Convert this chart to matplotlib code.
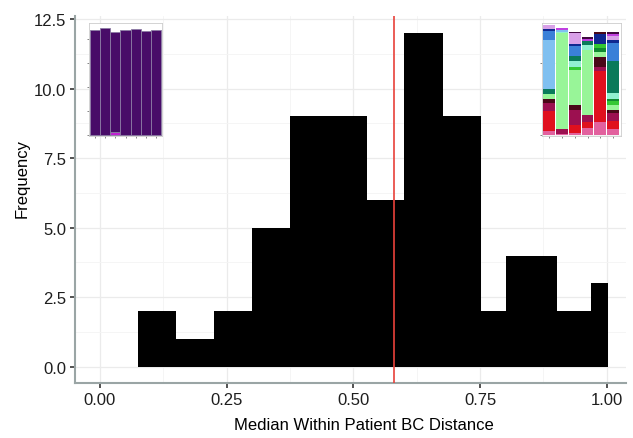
import numpy as np
import matplotlib.pyplot as plt
from matplotlib.ticker import MultipleLocator

plt.rcParams['font.family'] = ['Liberation Sans', 'DejaVu Sans']

# histogram of median within-patient Bray-Curtis distances
bin_edges = [0.0745, 0.1505, 0.2253, 0.301, 0.376, 0.451, 0.527, 0.601,
             0.676, 0.752, 0.802, 0.902, 0.969, 1.0025]
counts = [2, 1, 2, 5, 9, 9, 6, 12, 9, 2, 4, 2, 3]
median_dist = 0.581

# low-distance patient example (left inset): 7 samples
low_main = [4.37, 4.44, 4.17, 4.37, 4.38, 4.32, 4.34]
low_minor = [0.0, 0.0, 0.10, 0.0, 0.0, 0.0, 0.0]

# high-distance patient example (right inset): 6 samples, stacked taxa
pal = {
    'pink': '#e2619e', 'red': '#e0101e', 'plum': '#9c1050', 'maroon': '#4a0818',
    'lgreen': '#98f598', 'green': '#34c834', 'dgreen': '#108a30',
    'teal': '#0a7a5a', 'aqua': '#90f0d0', 'lblue': '#80c0f0',
    'blue': '#3a80d8', 'navy': '#102890', 'lav': '#d8a0e8',
    'magenta': '#c040e0', 'dpurple': '#400840',
}
high_samples = [
    [('pink', 14), ('red', 56), ('plum', 24), ('maroon', 14), ('lgreen', 12),
     ('teal', 17), ('lblue', 143), ('blue', 26), ('navy', 6), ('lav', 12)],
    [('pink', 4), ('plum', 15), ('lgreen', 281), ('aqua', 4), ('lblue', 4),
     ('magenta', 6)],
    [('pink', 7), ('red', 23), ('plum', 44), ('maroon', 16), ('lgreen', 102),
     ('green', 8), ('aqua', 17), ('teal', 15), ('blue', 30), ('navy', 7),
     ('lav', 31), ('dpurple', 5)],
    [('pink', 22), ('red', 18), ('plum', 20), ('lgreen', 192), ('aqua', 13),
     ('teal', 12), ('magenta', 7), ('dpurple', 6)],
    [('pink', 40), ('red', 150), ('plum', 10), ('maroon', 30), ('lgreen', 14),
     ('dgreen', 13), ('green', 10), ('navy', 15), ('navy', 15), ('maroon', 7)],
    [('pink', 20), ('red', 22), ('plum', 23), ('maroon', 9), ('lgreen', 16),
     ('green', 12), ('dgreen', 5), ('aqua', 18), ('teal', 92), ('blue', 55),
     ('navy', 8), ('lav', 12), ('magenta', 7), ('dpurple', 5)],
]

fig = plt.figure(figsize=(6.33, 4.39), dpi=100)
ax = fig.add_axes([75 / 633, 1 - 384.4 / 439, 551 / 633, 367 / 439])

ax.stairs(counts, bin_edges, fill=True, color='black', zorder=2)
ax.axvline(median_dist, color='#e8413a', lw=1.2, zorder=3)

ax.set_xlim(-0.049, 1.038)
ax.set_ylim(-0.6, 12.6)
ax.xaxis.set_major_locator(MultipleLocator(0.25))
ax.xaxis.set_minor_locator(MultipleLocator(0.125))
ax.yaxis.set_major_locator(MultipleLocator(2.5))
ax.yaxis.set_minor_locator(MultipleLocator(1.25))
ax.set_xticks([0, 0.25, 0.5, 0.75, 1.0], ['0.00', '0.25', '0.50', '0.75', '1.00'])
ax.set_yticks([0, 2.5, 5, 7.5, 10, 12.5], ['0.0', '2.5', '5.0', '7.5', '10.0', '12.5'])
ax.grid(which='major', color='#ebebeb', lw=0.9, zorder=0)
ax.grid(which='minor', color='#f4f4f4', lw=0.6, zorder=0)
ax.set_axisbelow(True)
ax.tick_params(which='major', length=3.8, width=1.2, color='#333333',
               labelsize=12, labelcolor='#1e1e1e', pad=2.5)
ax.tick_params(which='minor', length=0)
for side in ['top', 'right']:
    ax.spines[side].set_visible(False)
for side in ['left', 'bottom']:
    ax.spines[side].set_color('#9aa5a5')
    ax.spines[side].set_linewidth(1.5)
ax.set_xlabel('Median Within Patient BC Distance', fontsize=12, labelpad=7)
ax.set_ylabel('Frequency', fontsize=12, labelpad=3)
ax.xaxis.label.set_x(0.524)
ax.yaxis.label.set_y(0.56)

# left inset: stable composition
ax1 = fig.add_axes([89 / 633, 1 - 137 / 439, 73 / 633, 113 / 439])
xs = np.arange(len(low_main))
ax1.bar(xs, low_minor, width=1.0, color='#c020d0', edgecolor='#8c7ca4', lw=0.6)
ax1.bar(xs, low_main, bottom=low_minor, width=1.0, color='#480c68',
        edgecolor='#8c7ca4', lw=0.6)
ax1.set_xlim(-0.6, len(low_main) - 0.4)
ax1.set_ylim(-0.05, 4.65)
ax1.set_yticks([0, 1, 2, 3, 4])
ax1.set_xticks(xs)

# right inset: variable composition
ax2 = fig.add_axes([541.7 / 633, 1 - 137 / 439, 79 / 633, 113 / 439])
for i, sample in enumerate(high_samples):
    bottom = 0
    for key, h in sample:
        ax2.bar(i, h, bottom=bottom, width=0.92, color=pal[key], lw=0)
        bottom += h
ax2.set_xlim(-0.6, len(high_samples) - 0.4)
ax2.set_ylim(-2, 330)
ax2.set_yticks([0, 212])
ax2.set_xticks(range(len(high_samples)))

for a in (ax1, ax2):
    a.set_xticklabels([])
    a.set_yticklabels([])
    a.tick_params(length=1.5, width=0.5, color='#555555')
    a.grid(axis='y', color='#eeeeee', lw=0.5)
    a.set_axisbelow(True)
    for s in a.spines.values():
        s.set_color('#cccccc')
        s.set_linewidth(0.6)

fig.savefig('out.png', dpi=100)
